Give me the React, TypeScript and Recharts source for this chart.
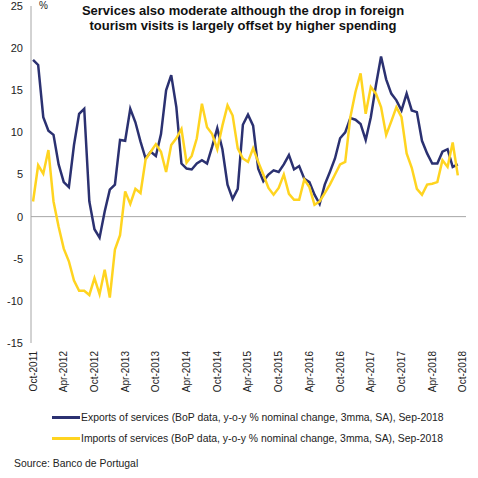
import React from "react"
import { LineChart, Line, XAxis, YAxis, ReferenceLine } from "recharts"

// monthly, Oct-2011 .. Sep-2018
const exportsSeries = [
  18.6, 18.0, 11.8, 10.2, 9.7, 6.2, 4.1, 3.5, 8.5, 12.2, 12.8, 1.8,
  -1.5, -2.5, 0.6, 3.2, 3.8, 9.1, 9.0, 12.8, 11.2, 8.9, 6.9, 7.7,
  7.2, 9.8, 15.0, 16.8, 13.0, 6.3, 5.7, 5.6, 6.3, 6.7, 6.3, 8.3,
  10.5, 8.0, 3.8, 2.1, 3.3, 10.9, 12.1, 10.8, 5.7, 4.2, 5.0, 5.5,
  5.3, 6.2, 7.3, 5.6, 6.0, 4.5, 4.1, 2.6, 1.5, 3.8, 5.3, 6.9,
  9.3, 10.0, 11.7, 11.5, 11.0, 9.1, 11.8, 15.6, 19.0, 16.3, 14.6, 13.8,
  12.6, 14.6, 12.6, 12.4, 9.0, 7.5, 6.3, 6.3, 7.7, 8.0, 5.9, 6.2,
]

const importsSeries = [
  1.8, 6.1, 5.1, 7.9, 1.8, -1.2, -3.8, -5.3, -7.6, -8.8, -8.8, -9.3,
  -7.3, -9.2, -6.3, -9.6, -3.9, -2.2, 3.0, 1.5, 3.3, 2.8, 6.8, 7.7,
  8.6, 7.7, 5.3, 8.5, 9.3, 10.4, 6.4, 7.2, 9.3, 13.4, 10.6, 9.8,
  8.0, 10.8, 13.2, 12.0, 8.1, 6.9, 6.5, 8.1, 6.5, 5.0, 3.4, 2.6,
  3.4, 5.0, 2.7, 2.0, 2.0, 4.4, 3.5, 1.4, 1.8, 2.8, 3.8, 5.0,
  6.2, 6.5, 11.8, 14.8, 17.0, 12.2, 15.4, 14.6, 13.0, 9.7, 11.3, 13.0,
  11.8, 7.5, 5.8, 3.3, 2.6, 3.8, 3.9, 4.1, 6.7, 5.9, 8.8, 4.9,
]

const tickLabels = [
  "Oct-2011", "Apr-2012", "Oct-2012", "Apr-2013", "Oct-2013", "Apr-2014", "Oct-2014", "Apr-2015",
  "Oct-2015", "Apr-2016", "Oct-2016", "Apr-2017", "Oct-2017", "Apr-2018", "Oct-2018",
]

const yTicks = [-15, -10, -5, 0, 5, 10, 15, 20, 25]

const seriesNames = [
  "Exports of services (BoP data, y-o-y % nominal change, 3mma, SA), Sep-2018",
  "Imports of services (BoP data, y-o-y % nominal change, 3mma, SA), Sep-2018",
]
const seriesColors = ["#2b3171", "#ffd420"]

const data = exportsSeries.map((v, i) => ({ i, exp: v, imp: importsSeries[i] }))
const xTicks = tickLabels.map((_, k) => k * 6)

const font = "'Liberation Sans', Arial, sans-serif"

function XTick(props: any) {
  const { x, y, payload } = props
  return (
    <text
      x={x}
      y={y}
      transform={`rotate(-90 ${x} ${y})`}
      textAnchor="end"
      dy="0.35em"
      fontSize={10}
      fill="#222"
      fontFamily={font}
    >
      {tickLabels[payload.value / 6]}
    </text>
  )
}

export default function App() {
  return (
    <div style={{ position: "absolute", left: 0, top: 0, width: 478, height: 478, background: "#fff", fontFamily: font }}>
      <LineChart width={478} height={400} data={data} margin={{ top: 6, right: 12, left: 0, bottom: 0 }}>
        <XAxis
          dataKey="i"
          type="number"
          domain={[-0.4, 84.6]}
          ticks={xTicks}
          interval={0}
          axisLine={false}
          tickLine={false}
          height={57}
          tick={<XTick />}
        />
        <YAxis
          domain={[-15, 25]}
          ticks={yTicks}
          interval={0}
          width={31}
          axisLine={{ stroke: "#a6a6a6" }}
          tickLine={false}
          tick={{ fontSize: 11, fill: "#222", fontFamily: font }}
        />
        <ReferenceLine y={0} stroke="#a6a6a6" strokeWidth={1} />
        <Line type="linear" dataKey="exp" stroke={seriesColors[0]} strokeWidth={2.5} dot={false} isAnimationActive={false} />
        <Line type="linear" dataKey="imp" stroke={seriesColors[1]} strokeWidth={2.5} dot={false} isAnimationActive={false} />
      </LineChart>

      <div style={{ position: "absolute", left: 39, top: 0, fontSize: 10, color: "#222" }}>%</div>
      <div
        style={{
          position: "absolute",
          left: 40,
          width: 406,
          top: 3,
          textAlign: "center",
          fontWeight: "bold",
          fontSize: 13,
          lineHeight: "15px",
          color: "#111",
        }}
      >
        Services also moderate although the drop in foreign
        <br />
        tourism visits is largely offset by higher spending
      </div>

      {seriesNames.map((name, k) => (
        <div key={name} style={{ position: "absolute", left: 52, top: 412 + k * 21, display: "flex", alignItems: "center", fontSize: 10.4, color: "#222" }}>
          <span style={{ display: "inline-block", width: 28, height: 3, background: seriesColors[k], marginRight: 1 }} />
          <span>{name}</span>
        </div>
      ))}
      <div style={{ position: "absolute", left: 14, top: 458, fontSize: 10.4, color: "#222" }}>Source: Banco de Portugal</div>
    </div>
  )
}
